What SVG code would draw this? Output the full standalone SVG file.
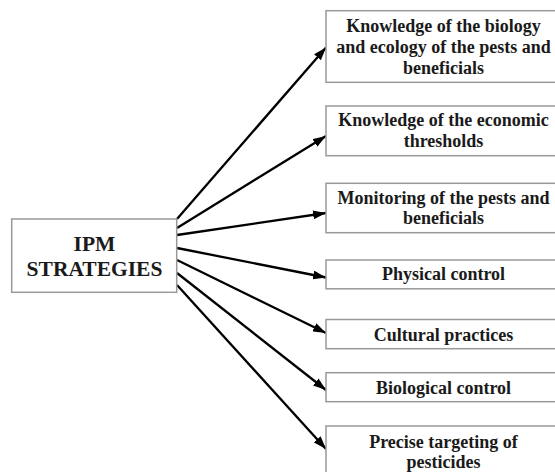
<svg xmlns="http://www.w3.org/2000/svg" width="555" height="472" viewBox="0 0 555 472">
<style>
.box{fill:#fff;stroke:#999;stroke-width:1.5}
.t{font-family:"Liberation Serif","Times New Roman",serif;font-weight:bold;font-size:18px;fill:#1a1a1a;text-anchor:middle}
.big{font-size:21.5px}
.c{stroke:#000;stroke-width:2.3;fill:none;marker-end:url(#ah)}
</style>
<defs>
<marker id="ah" viewBox="0 0 13 9" refX="13" refY="4.5" markerWidth="13" markerHeight="9" markerUnits="userSpaceOnUse" orient="auto">
<path d="M0,0 L13,4.5 L0,9 Z" fill="#000"/>
</marker>
</defs>
<rect width="555" height="472" fill="#fff"/>
<g id="connectors">
<line class="c" x1="177" y1="219" x2="326" y2="47.5"/>
<line class="c" x1="177" y1="228" x2="326" y2="136"/>
<line class="c" x1="177" y1="235" x2="326" y2="213"/>
<line class="c" x1="177" y1="248" x2="326" y2="277.5"/>
<line class="c" x1="177" y1="260" x2="326" y2="333"/>
<line class="c" x1="177" y1="273" x2="326" y2="390"/>
<line class="c" x1="177" y1="285" x2="326" y2="449"/>
</g>
<g id="ipm">
<rect class="box" x="11.7" y="219" width="165" height="73.3"/>
<text class="t big" x="94.5" y="250.5">IPM</text>
<text class="t big" x="94.5" y="276">STRATEGIES</text>
</g>
<g id="n1">
<rect class="box" x="326" y="10.7" width="240" height="71.6"/>
<text class="t" x="443.5" y="31.5">Knowledge of the biology</text>
<text class="t" x="443.5" y="53">and ecology of the pests and</text>
<text class="t" x="443.5" y="74">beneficials</text>
</g>
<g id="n2">
<rect class="box" x="326" y="106" width="240" height="49.7"/>
<text class="t" x="443.5" y="126">Knowledge of the economic</text>
<text class="t" x="443.5" y="146.5">thresholds</text>
</g>
<g id="n3">
<rect class="box" x="326" y="183.3" width="240" height="49.4"/>
<text class="t" x="443.5" y="204">Monitoring of the pests and</text>
<text class="t" x="443.5" y="224.3">beneficials</text>
</g>
<g id="n4">
<rect class="box" x="326" y="260" width="240" height="28.8"/>
<text class="t" x="443.5" y="280">Physical control</text>
</g>
<g id="n5">
<rect class="box" x="326" y="319.5" width="240" height="29.2"/>
<text class="t" x="443.5" y="340.5">Cultural practices</text>
</g>
<g id="n6">
<rect class="box" x="326" y="372.7" width="240" height="29"/>
<text class="t" x="443.5" y="394">Biological control</text>
</g>
<g id="n7">
<rect class="box" x="326" y="426" width="240" height="60"/>
<text class="t" x="443.5" y="448.3">Precise targeting of</text>
<text class="t" x="443.5" y="468.3">pesticides</text>
</g>
</svg>
